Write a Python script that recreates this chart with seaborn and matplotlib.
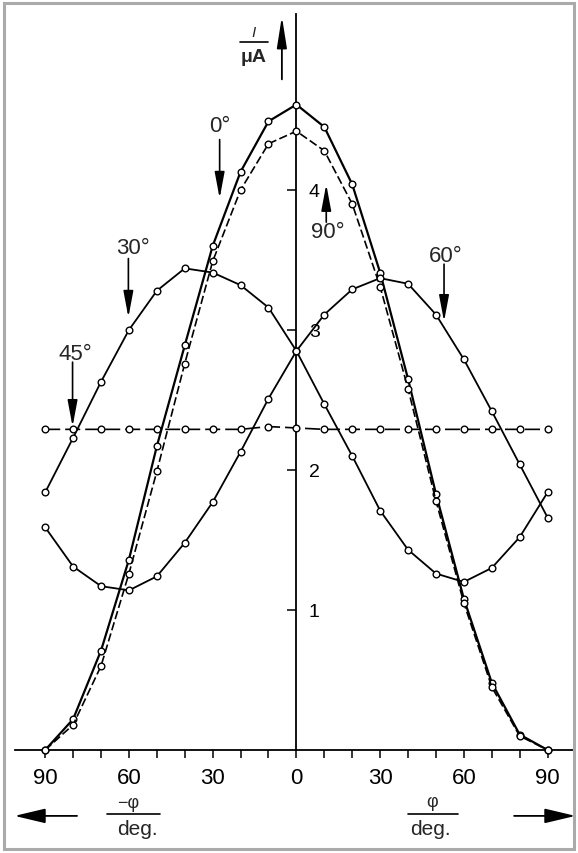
import numpy as np
import pandas as pd
import seaborn as sns
import matplotlib.pyplot as plt
from matplotlib.lines import Line2D
from matplotlib.patches import Rectangle
from matplotlib.ticker import FuncFormatter

# angle of incidence (deg) and photocurrent (uA) for each polariser setting
phi = [-90, -80, -70, -60, -50, -40, -30, -20, -10, 0,
       10, 20, 30, 40, 50, 60, 70, 80, 90]
i_0 = [0.0, 0.22, 0.71, 1.36, 2.17, 2.89, 3.60, 4.13, 4.49, 4.61,
       4.45, 4.04, 3.41, 2.65, 1.83, 1.08, 0.48, 0.11, 0.0]
i_90 = [0.0, 0.18, 0.60, 1.26, 1.99, 2.76, 3.49, 4.00, 4.33, 4.42,
        4.28, 3.90, 3.31, 2.58, 1.78, 1.05, 0.45, 0.10, 0.0]
i_30 = [1.84, 2.23, 2.63, 3.00, 3.28, 3.44, 3.41, 3.32, 3.16, 2.85,
        2.47, 2.10, 1.71, 1.43, 1.26, 1.20, 1.30, 1.52, 1.84]
i_60 = [1.59, 1.31, 1.17, 1.14, 1.24, 1.48, 1.77, 2.13, 2.51, 2.85,
        3.11, 3.29, 3.37, 3.33, 3.11, 2.79, 2.42, 2.04, 1.66]
i_45 = [2.29, 2.29, 2.29, 2.29, 2.29, 2.29, 2.29, 2.29, 2.31, 2.30,
        2.29, 2.29, 2.29, 2.29, 2.29, 2.29, 2.29, 2.29, 2.29]

x_ticks = list(range(-90, 91, 10))
y_ticks = [1, 2, 3, 4]

sns.set_style("white")
plt.rcParams['font.family'] = ['Liberation Sans', 'DejaVu Sans']

W, H = 578, 854
fig = plt.figure(figsize=(W / 100, H / 100), dpi=100)
ax = fig.add_axes([0, 0, 1, 1])
ax.set_xlim(-106.2, 100.9)
ax.set_ylim(-0.736, 5.364)
ax.patch.set_alpha(0)

series = [
    (i_0, '-', 1.6),
    (i_90, (0, (5, 2)), 1.2),
    (i_30, '-', 1.3),
    (i_60, '-', 1.3),
    (i_45, (0, (9, 3)), 1.2),
]
for vals, ls, lw in series:
    df = pd.DataFrame({'phi': phi, 'I': vals})
    sns.lineplot(data=df, x='phi', y='I', ax=ax, color='black', lw=lw,
                 linestyle=ls, marker='o', ms=4.8, mfc='white', mec='black',
                 mew=1.0, zorder=3)

ax.set_xlabel('')
ax.set_ylabel('')

# axes through the origin
for s in ['top', 'left']:
    ax.spines[s].set_visible(False)
ax.spines['bottom'].set_position(('data', 0))
ax.spines['bottom'].set_bounds(-101, 100)
ax.spines['right'].set_position(('data', 0))
ax.spines['right'].set_bounds(0, 5.26)
for s in ['bottom', 'right']:
    ax.spines[s].set_linewidth(1.3)
    ax.spines[s].set_color('black')

ax.xaxis.set_ticks_position('bottom')
ax.set_xticks(x_ticks)
ax.xaxis.set_major_formatter(FuncFormatter(
    lambda v, p: str(abs(int(round(v)))) if int(round(v)) % 30 == 0 else ''))
ax.tick_params(axis='x', direction='out', length=6, width=1.1, pad=6,
               labelsize=16, colors='black')

ax.yaxis.set_ticks_position('right')
ax.set_yticks(y_ticks)
ax.tick_params(axis='y', direction='in', length=6.5, width=1.1, pad=9,
               labelsize=14, colors='black')

# curve labels with arrows
arrow_kw = dict(arrowstyle='-|>,head_length=1.6,head_width=0.3', color='black',
                lw=1.2, shrinkA=0, shrinkB=0)
labels = [('0°', (-27.4, 4.46), (-27.5, 4.36), (-27.5, 3.94)),
          ('90°', (11.3, 3.70), (10.7, 3.77), (10.7, 4.04)),
          ('30°', (-58.6, 3.59), (-60.2, 3.51), (-60.2, 3.09)),
          ('60°', (53.6, 3.53), (52.9, 3.47), (52.9, 3.06)),
          ('45°', (-79.2, 2.83), (-80.2, 2.77), (-80.2, 2.31))]
for txt, tpos, tail, tip in labels:
    ax.text(*tpos, txt, ha='center', va='center', fontsize=16)
    ax.annotate('', xy=tip, xytext=tail, arrowprops=arrow_kw)

# y quantity label I / uA with upward arrow
ax.annotate('', xy=(-5.2, 5.24), xytext=(-5.2, 4.79),
            arrowprops=dict(arrowstyle='-|>,head_length=1.9,head_width=0.3',
                            color='black', lw=1.3, shrinkA=0, shrinkB=0))
fig.text(254 / W, 1 - 33 / H, 'I', style='italic', fontsize=11,
         ha='center', va='center')
fig.add_artist(Line2D([240 / W, 268 / W], [1 - 43 / H, 1 - 43 / H],
                      color='black', lw=1.2, transform=fig.transFigure))
fig.text(254 / W, 1 - 57 / H, 'μA', fontsize=14, fontweight='bold',
         ha='center', va='center')

# x quantity labels with side arrows
big_arrow = dict(arrowstyle='-|>,head_length=1.9,head_width=0.45',
                 color='black', lw=1.3, shrinkA=0, shrinkB=0)
ax.annotate('', xy=(-101, -0.471), xytext=(-78.6, -0.471), arrowprops=big_arrow)
ax.annotate('', xy=(100, -0.471), xytext=(78, -0.471), arrowprops=big_arrow)

fig.text(128 / W, 1 - 804 / H, '−φ', fontsize=13, ha='center', va='center')
fig.add_artist(Line2D([107 / W, 160 / W], [1 - 815 / H, 1 - 815 / H],
                      color='black', lw=1.2, transform=fig.transFigure))
fig.text(137 / W, 1 - 830 / H, 'deg.', fontsize=15, ha='center', va='center')

fig.text(432 / W, 1 - 803 / H, 'φ', fontsize=13, ha='center', va='center')
fig.add_artist(Line2D([408 / W, 458 / W], [1 - 815 / H, 1 - 815 / H],
                      color='black', lw=1.2, transform=fig.transFigure))
fig.text(430 / W, 1 - 830 / H, 'deg.', fontsize=15, ha='center', va='center')

# grey frame of the scanned page
fig.add_artist(Rectangle((4 / W, 4 / H), 570 / W, 846 / H, fill=False,
                         edgecolor='#aaaaaa', lw=2.2, transform=fig.transFigure))

fig.savefig('out.png', dpi=100)
